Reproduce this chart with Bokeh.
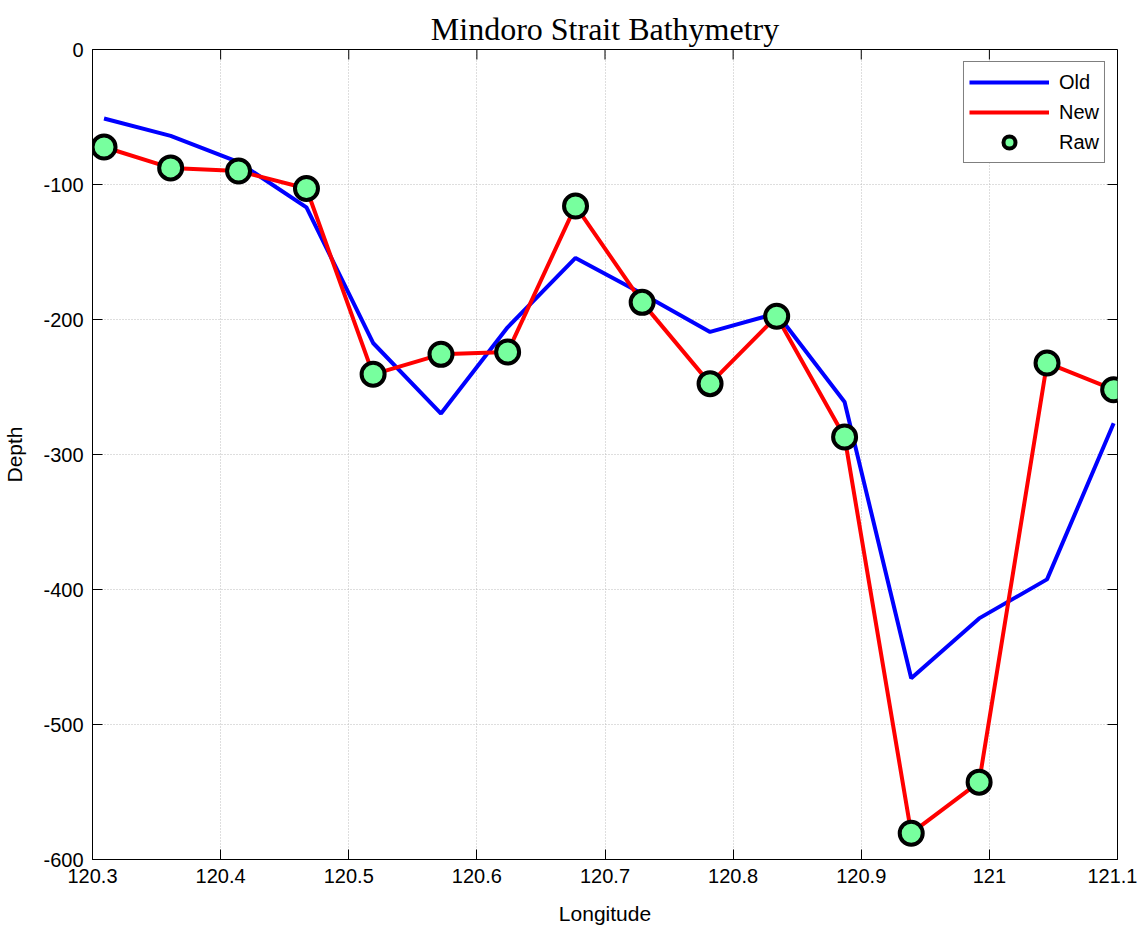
import math
from bokeh.plotting import figure
from bokeh.models import Range1d, FixedTicker, Legend, LegendItem
from bokeh.embed import file_html
from bokeh.resources import INLINE

# ---- data ----
longitude = [120.309, 120.361, 120.414, 120.467, 120.519, 120.572, 120.624, 120.677,
             120.729, 120.782, 120.834, 120.887, 120.939, 120.992, 121.045, 121.097]
old_depth = [-51.1, -64.0, -83.5, -116.9, -217.4, -269.7, -205.8, -154.4,
             -181.0, -209.2, -195.4, -261.1, -465.7, -421.4, -392.5, -276.9]
new_depth = [-72.2, -87.7, -90.0, -103.0, -240.6, -225.8, -224.1, -115.9,
             -187.3, -247.5, -197.6, -287.0, -580.5, -542.7, -232.2, -252.0]
raw_depth = [-72.2, -87.7, -90.0, -103.0, -240.6, -225.8, -224.1, -115.9,
             -187.3, -247.5, -197.6, -287.0, -580.5, -542.7, -232.2, -252.0]

x_ticks = [120.3, 120.4, 120.5, 120.6, 120.7, 120.8, 120.9, 121.0, 121.1]
x_tick_labels = ["120.3", "120.4", "120.5", "120.6", "120.7", "120.8", "120.9", "121", "121.1"]
y_ticks = [0, -100, -200, -300, -400, -500, -600]
y_tick_labels = ["0", "-100", "-200", "-300", "-400", "-500", "-600"]
x_min, x_max = 120.3, 121.1
y_min, y_max = -600, 0

SANS = "Liberation Sans"

p = figure(frame_width=1025, frame_height=810,
           x_range=Range1d(x_min, x_max), y_range=Range1d(y_min, y_max),
           output_backend="svg", toolbar_location=None,
           min_border_left=85, min_border_right=20, min_border_top=49, min_border_bottom=55,
           title="Mindoro Strait Bathymetry")

p.title.text_font = "Liberation Serif"
p.title.text_font_size = "32px"
p.title.text_font_style = "normal"
p.title.align = "center"
p.title.vertical_align = "top"
p.title.text_color = "black"
p.title.standoff = 2

p.outline_line_color = "black"
p.outline_line_width = 1
p.background_fill_color = "white"
p.border_fill_color = "white"

for ax, ticks, labels in ((p.xaxis[0], x_ticks, x_tick_labels), (p.yaxis[0], y_ticks, y_tick_labels)):
    ax.ticker = FixedTicker(ticks=ticks)
    ax.major_label_overrides = {t: l for t, l in zip(ticks, labels)}
    ax.major_tick_in = 10
    ax.major_tick_out = 0
    ax.minor_tick_in = 0
    ax.minor_tick_out = 0
    ax.axis_line_color = "black"
    ax.major_tick_line_color = "black"
    ax.major_label_text_font = SANS
    ax.major_label_text_font_size = "20px"
    ax.major_label_text_color = "black"
    ax.major_label_standoff = 9
    ax.axis_label_text_font = SANS
    ax.axis_label_text_font_size = "21px"
    ax.axis_label_text_font_style = "normal"
    ax.axis_label_text_color = "black"

p.xaxis[0].axis_label = "Longitude"
p.yaxis[0].axis_label = "Depth"
p.xaxis[0].axis_label_standoff = 16
p.yaxis[0].axis_label_standoff = 14

# box-style inward ticks on the top and right edges
p.ray(x=x_ticks, y=y_max, length=10, length_units="screen", angle=-math.pi / 2,
      line_color="black", line_width=1)
p.ray(x=x_max, y=y_ticks, length=10, length_units="screen", angle=math.pi,
      line_color="black", line_width=1)

p.xgrid.ticker = FixedTicker(ticks=x_ticks)
p.ygrid.ticker = FixedTicker(ticks=y_ticks)
p.grid.grid_line_color = "#bdbdbd"
p.grid.grid_line_dash = "1 2"
p.grid.grid_line_width = 1

r_old = p.line(longitude, old_depth, line_color="#0000FF", line_width=4)
r_new = p.line(longitude, new_depth, line_color="#FF0000", line_width=4)
r_raw = p.scatter(longitude, raw_depth, size=23, fill_color="#77FF9E",
                  line_color="black", line_width=4)

legend = Legend(items=[LegendItem(label="Old", renderers=[r_old]),
                       LegendItem(label="New", renderers=[r_new]),
                       LegendItem(label="Raw", renderers=[r_raw])],
                location="top_right")
legend.margin = 12
legend.padding = 5
legend.spacing = 0
legend.glyph_width = 80
legend.glyph_height = 30
legend.label_height = 30
legend.label_standoff = 10
legend.label_text_font = SANS
legend.label_text_font_size = "20px"
legend.label_text_color = "black"
legend.border_line_color = "black"
legend.border_line_width = 1
legend.background_fill_color = "white"
legend.background_fill_alpha = 1
p.add_layout(legend)

open("out.html", "w").write(file_html(p, INLINE))
